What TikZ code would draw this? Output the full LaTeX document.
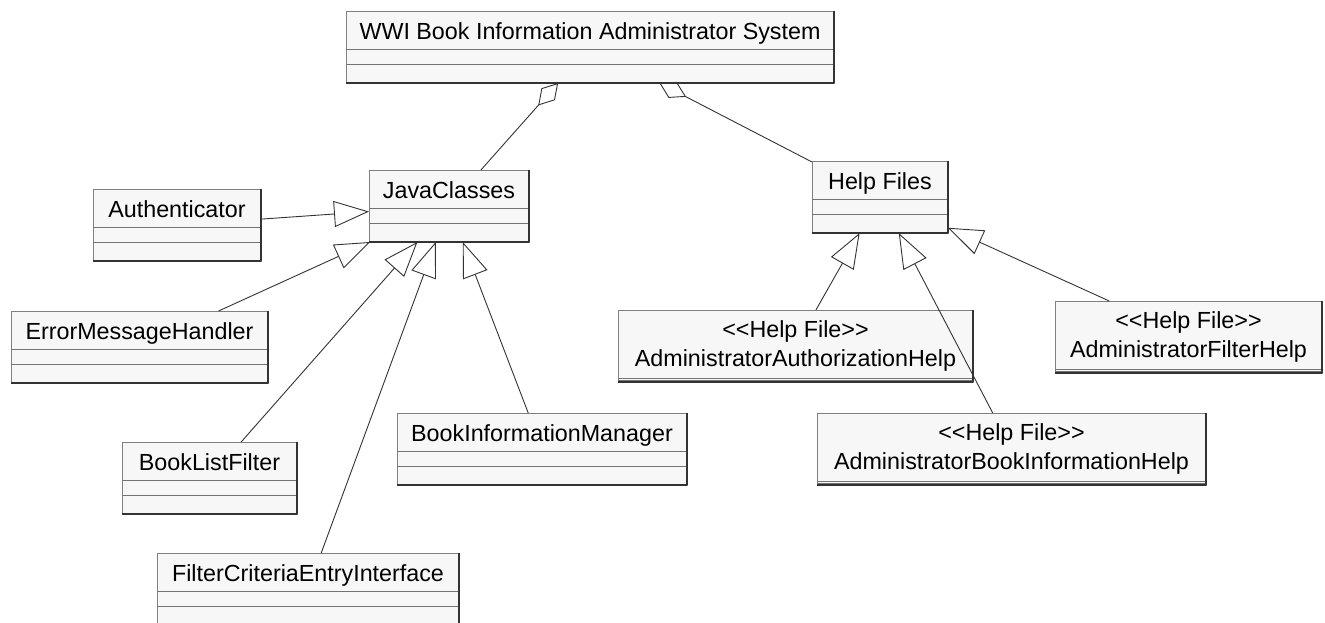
\documentclass[tikz,border=0pt]{standalone}
\usepackage{fontspec}
\newfontfamily\umlfont{Liberation Sans}
\usetikzlibrary{arrows.meta}
\tikzset{
    compart/.style={draw=black!55, line width=0.8pt},
    rim/.style={draw=black!80, line width=1.4pt},
    boxrim/.style={append after command={
        (\tikzlastnode.north east) edge[rim] (\tikzlastnode.south east)
        (\tikzlastnode.south west) edge[rim] (\tikzlastnode.south east)}},
    classbox/.style={rectangle, draw=black!50, fill=black!3, line width=0.8pt,
                     anchor=north west, inner xsep=4pt, inner ysep=0pt, outer sep=0pt,
                     text height=28pt, text depth=44pt,
                     font=\umlfont\fontsize{23.3}{29}\selectfont,
                     append after command={
        ([yshift=-38pt]\tikzlastnode.north west) edge[compart] ([yshift=-38pt]\tikzlastnode.north east)
        ([yshift=-53pt]\tikzlastnode.north west) edge[compart] ([yshift=-53pt]\tikzlastnode.north east)},
                     boxrim},
    helpbox/.style={rectangle, draw=black!50, fill=black!3, line width=0.8pt,
                    anchor=north west, inner xsep=4pt, inner ysep=0pt, outer sep=0pt,
                    minimum height=72pt, align=center,
                    font=\umlfont\fontsize{23.3}{29}\selectfont,
                    append after command={
        ([yshift=-68pt]\tikzlastnode.north west) edge[compart] ([yshift=-68pt]\tikzlastnode.north east)
        ([yshift=-70.5pt]\tikzlastnode.north west) edge[compart] ([yshift=-70.5pt]\tikzlastnode.north east)},
                    boxrim},
    gen/.style={-{Triangle[open, length=35pt, width=26pt]}, draw=black!80, line width=0.9pt},
    agg/.style={{Diamond[open, length=30pt, width=18pt]}-, draw=black!80, line width=0.9pt},
}

\begin{document}
\begin{tikzpicture}[x=1pt, y=-1pt]

    \useasboundingbox (0,0) rectangle (1325,622);

    \node[classbox, minimum width=488pt] (sys) at (346,11)
        {WWI Book Information Administrator System};

    % Java side
    \node[classbox, minimum width=160pt] (javacls) at (369,170) {JavaClasses};
    \node[classbox, minimum width=168pt] (auth) at (93,189) {Authenticator};
    \node[classbox, minimum width=257pt] (errmsg) at (11,311) {ErrorMessageHandler};
    \node[classbox, minimum width=175pt] (listfilter) at (122,442) {BookListFilter};
    \node[classbox, minimum width=290pt] (infomgr) at (397,413) {BookInformationManager};
    \node[classbox, minimum width=302pt] (critentry) at (157,553) {FilterCriteriaEntryInterface};

    % Help side
    \node[classbox, minimum width=136pt] (helpfiles) at (812,161) {Help Files};
    \node[helpbox, minimum width=355pt] (authhelp) at (618,310)
        {<<Help File>>\\AdministratorAuthorizationHelp};
    \node[helpbox, minimum width=389pt] (bookhelp) at (817,413)
        {<<Help File>>\\AdministratorBookInformationHelp};
    \node[helpbox, minimum width=267pt] (filterhelp) at (1055,301)
        {<<Help File>>\\AdministratorFilterHelp};

    % System <>- parts
    \draw[agg] (sys) -- (javacls);
    \draw[agg] (sys) -- (helpfiles);

    % Java classes -> JavaClasses
    \draw[gen] (auth) -- (javacls);
    \draw[gen] (errmsg) -- (javacls);
    \draw[gen] (listfilter) -- (javacls);
    \draw[gen] (critentry) -- (javacls);
    \draw[gen] (infomgr) -- (javacls);

    % Help files -> Help Files
    \draw[gen] (authhelp) -- (helpfiles);
    \draw[gen] (bookhelp) -- (helpfiles);
    \draw[gen] (filterhelp) -- (helpfiles);

\end{tikzpicture}
\end{document}
